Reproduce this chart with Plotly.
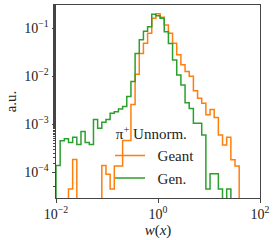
import numpy as np
import plotly.graph_objects as go

# 49 log-spaced bins between 1e-2 and 1e2
bin_edges = np.logspace(-2, 2, 50)

geant = [0, 0, 0, 4.5e-5, 1.86e-4, 0, 0, 0, 0, 0,
         0, 1.38e-4, 9.1e-5, 4.5e-5, 1.35e-4, 1.35e-4, 4.6e-4, 4.6e-4, 2.6e-3, 0.011,
         0.030, 0.049, 0.079, 0.162, 0.20, 0.17, 0.117, 0.079, 0.049, 0.028,
         0.0174, 0.0126, 0.010, 5.0e-3, 3.5e-3, 2.75e-3, 1.58e-3, 2.04e-3, 1.38e-3, 6.0e-4,
         3.7e-4, 5.4e-4, 1.82e-4, 1.35e-4, 0, 0, 0, 0, 0]

gen = [1.38e-4, 4.57e-4, 5.0e-4, 4.2e-4, 5.4e-4, 3.8e-4, 7.1e-4, 4.2e-4, 3.8e-4, 1.26e-3,
       8.3e-4, 1.10e-3, 1.26e-3, 1.70e-3, 1.82e-3, 2.09e-3, 2.34e-3, 3.8e-3, 7.8e-3, 0.030,
       0.0575, 0.087, 0.107, 0.195, 0.182, 0.162, 0.085, 0.048, 0.0219, 0.0107,
       6.6e-3, 2.8e-3, 2.14e-3, 1.05e-3, 1.05e-3, 6.0e-4, 4.5e-5, 9.3e-5, 9.3e-5, 4.5e-5,
       0, 4.5e-5, 0, 0, 0, 0, 0, 0, 0]

series_names = ["Geant", "Gen."]
series_colors = ["#ff7f0e", "#2ca02c"]

x_tickvals = [1e-2, 1e0, 1e2]
x_ticktext = ["10<sup>\u22122</sup>", "10<sup>0</sup>", "10<sup>2</sup>"]
y_tickvals = [1e-4, 1e-3, 1e-2, 1e-1]
y_ticktext = ["10<sup>\u22124</sup>", "10<sup>\u22123</sup>", "10<sup>\u22122</sup>", "10<sup>\u22121</sup>"]

FLOOR = 1e-9  # empty bins drop below the visible range (as in a log-scale step histogram)


def step_xy(edges, vals):
    v = [max(val, FLOOR) for val in vals]
    xs = [edges[0]] + list(edges) + [edges[-1]]
    ys = [FLOOR] + v + [v[-1], FLOOR]
    return xs, ys


fig = go.Figure()
for name, vals, col in zip(series_names, [geant, gen], series_colors):
    xs, ys = step_xy(bin_edges, vals)
    fig.add_trace(go.Scatter(x=xs, y=ys, mode="lines", line_shape="hv",
                             line=dict(color=col, width=1.5),
                             name="\u00a0\u00a0" + name))

font_family = "Liberation Serif, Times New Roman, serif"
axis_common = dict(showline=True, linecolor="#444", linewidth=1, mirror=True,
                   showgrid=False, zeroline=False, ticks="outside", tickcolor="#444",
                   ticklen=3.5, tickwidth=1, tickfont=dict(size=14, color="#222"),
                   automargin=False)

fig.update_layout(
    width=274, height=240,
    margin=dict(l=56, r=14, t=5, b=42),
    paper_bgcolor="white", plot_bgcolor="white",
    font=dict(family=font_family, size=14, color="#222"),
    xaxis=dict(type="log", range=[-2, 2], tickvals=x_tickvals, ticktext=x_ticktext,
               title=dict(text="<i>w</i>(<i>x</i>)", standoff=2, font=dict(size=15)),
               **axis_common),
    yaxis=dict(type="log", range=[-4.535, -0.515], tickvals=y_tickvals, ticktext=y_ticktext,
               title=dict(text="a.u.", standoff=4, font=dict(size=15)),
               minor=dict(ticks="outside", ticklen=2, tickcolor="#444", showgrid=False),
               **axis_common),
    showlegend=True,
    legend=dict(x=0.265, y=0.405, xanchor="left", yanchor="top",
                bgcolor="rgba(0,0,0,0)", borderwidth=0,
                title=dict(text="\u00a0\u03c0<sup>+</sup> Unnorm.", font=dict(size=15)),
                font=dict(size=15)),
)

fig.write_html("out.html", config={"displayModeBar": False},
               post_script="document.body.style.margin='0';document.body.style.overflow='hidden';")
